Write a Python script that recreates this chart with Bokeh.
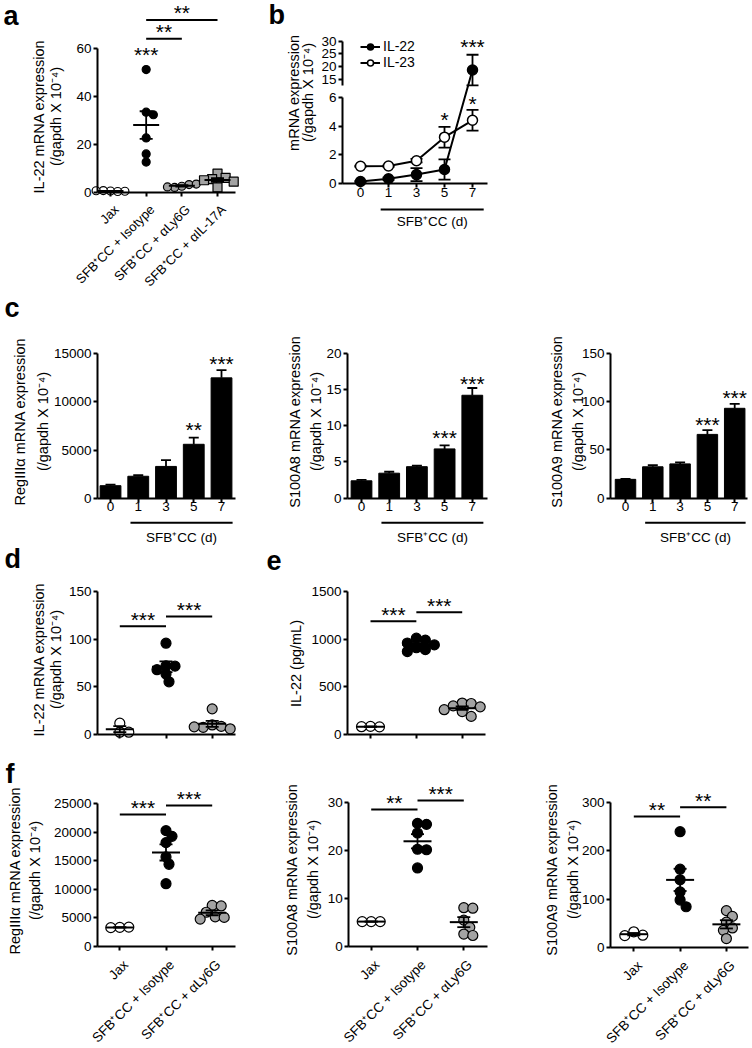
import math
import numpy as np
from bokeh.plotting import figure
from bokeh.models import Range1d, FixedTicker, LinearAxis, Legend, LegendItem
from bokeh.layouts import row, column
from bokeh.embed import file_html
from bokeh.resources import INLINE
from bokeh.core.properties import value

FONT = "Liberation Sans"
TICK_FS = "13.5px"
LAB_FS = "14.5px"
STAR_FS = 21
LETTER_PX = 27
GRAY = "#a3a3a3"
SFB = "SFB\u207aCC"
UNIT = "(/gapdh X 10\u207b\u2074)"

# ---------------- data ----------------
# panel a
a_groups = ["Jax", SFB + " + Isotype", SFB + " + \u03b1Ly6G", SFB + " + \u03b1IL-17A"]
a_jax = [0.5, 0.3, 0.7, 0.4, 0.6]
a_iso = [51.3, 33.5, 32.4, 22.7, 16.0, 12.6]
a_ly6g = [2.5, 3.2, 2.0, 3.4, 2.2]
a_il17 = [7.8, 6.0, 5.5, 5.0, 4.4, 2.0]
a_yticks = [0, 20, 40, 60]
a_sig = [(1, 2, 64.2, "**"), (1, 3, 72.1, "**")]
a_stars = [(1, 58.6, "***")]

# panel b
b_days = ["0", "1", "3", "5", "7"]
b_il22 = [0.16, 0.35, 0.64, 0.99, 18.7]
b_il22_sem = [0.04, 0.08, 0.45, 0.7, 6.0]
b_il23 = [1.22, 1.23, 1.6, 3.23, 4.4]
b_il23_sem = [0.04, 0.05, 0.12, 0.72, 0.72]
b_low_ticks = [0, 2, 4, 6]
b_up_ticks = [15, 20, 25, 30]
b_low_max = 6
b_up_min = 12.65
b_stars = [(3, 4.6, "*"), (4, 5.77, "*"), (4, 28.9, "***")]

# panel c
c_days = ["0", "1", "3", "5", "7"]
c1_mean = [1300, 2280, 3300, 5600, 12500]
c1_sem = [100, 120, 650, 700, 800]
c1_stars = [(3, 7400, "**"), (4, 14300, "***")]
c1_yticks = [0, 5000, 10000, 15000]
c2_mean = [2.4, 3.45, 4.35, 6.8, 14.2]
c2_sem = [0.12, 0.2, 0.15, 0.5, 1.0]
c2_stars = [(3, 8.65, "***"), (4, 16.2, "***")]
c2_yticks = [0, 5, 10, 15, 20]
c3_mean = [19.5, 32.5, 35.5, 66.0, 93.0]
c3_sem = [0.5, 1.8, 1.5, 4.5, 4.5]
c3_stars = [(3, 79.3, "***"), (4, 106.9, "***")]
c3_yticks = [0, 50, 100, 150]

# panels d, e, f
g3 = ["Jax", SFB + " + Isotype", SFB + " + \u03b1Ly6G"]
d_jax = [11.9, 2.4, 2.4]
d_iso = [95.8, 72.0, 71.7, 68.0, 63.5, 55.3]
d_ly6g = [26.9, 10.0, 8.5, 7.5, 6.0, 8.0]
d_sig = [(0, 1, 113.6, "***"), (1, 2, 123.8, "***")]
d_yticks = [0, 50, 100, 150]

e_jax = [85, 80, 82]
e_iso = [1010, 990, 960, 940, 910, 890, 870]
e_ly6g = [330, 325, 300, 290, 260, 240, 190]
e_sig = [(0, 1, 1188, "***"), (1, 2, 1283, "***")]
e_yticks = [0, 500, 1000, 1500]

f1_jax = [3350, 3400, 3300]
f1_iso = [20300, 19300, 18200, 15700, 14400, 11000]
f1_ly6g = [7200, 7100, 6000, 5200, 5100, 4800]
f1_sig = [(0, 1, 23126, "***"), (1, 2, 24703, "***")]
f1_yticks = [0, 5000, 10000, 15000, 20000, 25000]

f2_jax = [5.2, 5.2, 5.2]
f2_iso = [25.7, 25.5, 23.7, 20.3, 20.2, 16.4]
f2_ly6g = [8.1, 8.0, 5.5, 4.0, 2.6, 2.3]
f2_sig = [(0, 1, 28.6, "**"), (1, 2, 30.5, "***")]
f2_yticks = [0, 10, 20, 30]

f3_jax = [32, 25, 24]
f3_iso = [240, 162, 140, 115, 98, 84]
f3_ly6g = [76, 64, 52, 40, 35, 18]
f3_sig = [(0, 1, 271.5, "**"), (1, 2, 291, "**")]
f3_yticks = [0, 100, 200, 300]


# ---------------- helpers ----------------
class Geo:
    """Canvas geometry: pixel anchors for the axes (canvas = frame)."""
    def __init__(self, cw, ch, yax_px, xend_px, x0px, dx, y0px, ytop_px, ytop_val):
        self.cw, self.ch = cw, ch
        self.yax_px, self.xend_px = yax_px, xend_px
        self.x0px, self.dx, self.y0px = x0px, dx, y0px
        self.ppu = (y0px - ytop_px) / ytop_val

    def xd(self, X):
        return (X - self.x0px) / self.dx

    def yd(self, Y):
        return (self.y0px - Y) / self.ppu


def make_fig(g):
    p = figure(width=g.cw, height=g.ch, min_border=0, title=None,
               x_range=Range1d(g.xd(0), g.xd(g.cw)),
               y_range=Range1d(g.yd(g.ch), g.yd(0)),
               output_backend="svg", toolbar_location=None,
               x_axis_location=None, y_axis_location=None)
    p.xgrid.visible = False
    p.ygrid.visible = False
    p.outline_line_color = None
    p.background_fill_color = "white"
    p.border_fill_color = "white"
    return p


def style_axis(ax):
    ax.axis_line_width = 2
    ax.axis_line_color = "black"
    ax.major_tick_line_width = 2
    ax.major_tick_line_color = "black"
    ax.major_tick_out = 4
    ax.major_tick_in = 0
    ax.minor_tick_line_color = None
    ax.major_label_text_font = FONT
    ax.major_label_text_font_size = TICK_FS
    ax.major_label_text_color = "black"
    ax.major_label_standoff = 2


def add_yaxis(p, g, ticks, lines, xs, yc):
    ax = LinearAxis(fixed_location=g.xd(g.yax_px), bounds=(0, ticks[-1]),
                    ticker=FixedTicker(ticks=ticks))
    style_axis(ax)
    p.add_layout(ax, "left")
    p.text(x=[g.xd(x) for x in xs], y=[g.yd(yc)] * len(lines), text=lines, angle=math.pi / 2,
           text_font=value(FONT), text_font_size=LAB_FS, text_align="center",
           text_baseline="middle", text_color="black")
    return ax


def add_xaxis(p, g, labels, cat=None):
    n = len(labels)
    ax = LinearAxis(fixed_location=0, bounds=(g.xd(g.yax_px), g.xd(g.xend_px)),
                    ticker=FixedTicker(ticks=list(range(n))),
                    major_label_overrides={i: ("" if cat else labels[i]) for i in range(n)})
    style_axis(ax)
    ax.major_label_standoff = 0
    p.add_layout(ax, "below")
    if cat:
        fs, dxp, dyp = cat
        p.text(x=[i + dxp / g.dx for i in range(n)], y=[g.yd(g.y0px + dyp)] * n, text=labels,
               angle=math.pi / 4, text_font=value(FONT), text_font_size=fs,
               text_align="right", text_baseline="middle", text_color="black")
    return ax


def underline(p, g, line_px, text_px, label, x0=0.72, x1=4.4):
    yl = g.yd(g.y0px + line_px)
    p.segment([x0], [yl], [x1], [yl], line_color="black", line_width=2)
    p.text(x=[(x0 + x1) / 2], y=[g.yd(g.y0px + text_px)], text=[label], text_font=value(FONT),
           text_font_size=TICK_FS, text_align="center", text_baseline="middle",
           text_color="black")


def letter(p, g, X, Y, t):
    # Y: wanted baseline; the renderer draws ~0.45em lower than the anchor
    p.text(x=[g.xd(X)], y=[g.yd(Y - 0.45 * LETTER_PX)], text=[t], text_font=value(FONT),
           text_font_size="%dpx" % LETTER_PX, text_font_style="bold",
           text_baseline="alphabetic", text_align="left", text_color="black")


def stars(p, g, items):
    # items: (x, visual centre value, text)
    p.text(x=[i[0] for i in items], y=[i[1] for i in items], text=[i[2] for i in items],
           text_font=value(FONT), text_font_size="%dpx" % STAR_FS, text_align="center",
           text_baseline="alphabetic", y_offset=2.5, text_color="black")


def sig(p, g, pairs):
    p.segment(x0=[a for a, b, y, t in pairs], y0=[y for a, b, y, t in pairs],
              x1=[b for a, b, y, t in pairs], y1=[y for a, b, y, t in pairs],
              line_color="black", line_width=2)
    stars(p, g, [((a + b) / 2, y + 9.5 / g.ppu, t) for a, b, y, t in pairs])


def swarm(vals, ppu, dx, diam):
    placed, out = [], []
    step = 0.3 * diam
    for v in vals:
        y = v * ppu
        cands = [0.0]
        for k in range(1, 30):
            cands += [k * step, -k * step]
        for c in cands:
            if all((c - px) ** 2 + (y - py) ** 2 >= (0.8 * diam) ** 2 for px, py in placed):
                break
        placed.append((c, y))
        out.append(c / dx)
    return out


def scatter_panel(p, g, groups, fills, markers, sizes, mean_w=28, cap_w=13):
    for i, vals in enumerate(groups):
        offs = swarm(vals, g.ppu, g.dx, sizes[i])
        p.scatter([i + o for o in offs], vals, marker=markers[i], size=sizes[i],
                  fill_color=fills[i], line_color="black", line_width=1.2)
    for i, vals in enumerate(groups):
        m = float(np.mean(vals))
        s = float(np.std(vals, ddof=1) / np.sqrt(len(vals)))
        p.segment([i], [m - s], [i], [m + s], line_color="black", line_width=1.8)
        p.scatter([i], [m], marker="dash", size=mean_w, line_width=2, line_color="black")
        p.scatter([i, i], [m - s, m + s], marker="dash", size=cap_w, line_width=1.8,
                  line_color="black")


def bar_panel(p, g, means, sems, st, yticks, lines, xs, yc):
    x = list(range(len(means)))
    p.vbar(x=x, top=means, width=0.75, fill_color="black", line_color="black")
    tops = [m + s for m, s in zip(means, sems)]
    p.segment(x, means, x, tops, line_color="black", line_width=1.8)
    p.scatter(x, tops, marker="dash", size=10, line_width=1.8, line_color="black")
    stars(p, g, st)
    add_yaxis(p, g, yticks, lines, xs, yc)
    add_xaxis(p, g, c_days)
    underline(p, g, 24.6, 39, SFB + " (d)")


# ---------------- row 1: a, b ----------------
R1 = 292
ga = Geo(252, R1, 97, 235, 110, 35.67, 191.7, 48.3, 60)
pa = make_fig(ga)
scatter_panel(pa, ga, [a_jax, a_iso, a_ly6g, a_il17], ["white", "black", GRAY, GRAY],
              ["circle", "circle", "circle", "square"], [8, 8, 8, 9], mean_w=26, cap_w=13)
sig(pa, ga, a_sig)
stars(pa, ga, a_stars)
add_yaxis(pa, ga, a_yticks, ["IL-22 mRNA expression", UNIT], [38, 55], 116)
add_xaxis(pa, ga, a_groups, cat=("13px", 6, 15))
letter(pa, ga, 3, 28, "a")

gb = Geo(248, R1, 90, 235, 108, 28, 183.3, 96.7, 6)
UP_TOP_PX, UP_BOT_PX = 40.7, 85.0
ppu_up = (UP_BOT_PX - UP_TOP_PX) / (b_up_ticks[-1] - b_up_min)


def bv(y):
    if y <= b_low_max:
        return y
    return gb.yd(UP_BOT_PX - (y - b_up_min) * ppu_up)


pb = make_fig(gb)
pb.extra_y_ranges = {"up": Range1d(b_up_min + (UP_BOT_PX - gb.ch) / ppu_up,
                                   b_up_min + (UP_BOT_PX - 0) / ppu_up)}
bx = list(range(len(b_days)))
v22 = [bv(v) for v in b_il22]
v23 = [bv(v) for v in b_il23]
l22 = pb.line(bx, v22, line_color="black", line_width=2)
l23 = pb.line(bx, v23, line_color="black", line_width=2)
for m, s in ((b_il22, b_il22_sem), (b_il23, b_il23_sem)):
    lo = [bv(a - b) for a, b in zip(m, s)]
    hi = [bv(a + b) for a, b in zip(m, s)]
    pb.segment(bx, lo, bx, hi, line_color="black", line_width=1.8)
    pb.scatter(bx + bx, lo + hi, marker="dash", size=12, line_width=1.8, line_color="black")
s22 = pb.scatter(bx, v22, marker="circle", size=10, fill_color="black", line_color="black",
                 line_width=1.5)
s23 = pb.scatter(bx, v23, marker="circle", size=10, fill_color="white", line_color="black",
                 line_width=1.5)
stars(pb, gb, [(x, bv(y), t) for x, y, t in b_stars])
add_yaxis(pb, gb, b_low_ticks, ["mRNA expression", UNIT], [41, 55], 92)
uax = LinearAxis(y_range_name="up", ticker=FixedTicker(ticks=b_up_ticks),
                 bounds=(b_up_min, b_up_ticks[-1]), fixed_location=gb.xd(gb.yax_px))
style_axis(uax)
pb.add_layout(uax, "left")
add_xaxis(pb, gb, b_days)
underline(pb, gb, 25.7, 37.7, SFB + " (d)")
leg = Legend(items=[LegendItem(label="IL-22", renderers=[l22, s22]),
                    LegendItem(label="IL-23", renderers=[l23, s23])],
             location=(108, gb.ch - 70), margin=0, padding=0, spacing=0, glyph_height=15,
             glyph_width=20, label_height=15, label_standoff=3, border_line_color=None,
             background_fill_alpha=0, label_text_font=FONT, label_text_font_size="14px",
             label_text_baseline="middle", label_text_color="black")
pb.add_layout(leg)
letter(pb, gb, 16, 27, "b")

# ---------------- row 2: c ----------------
R2 = 253
gc1 = Geo(252, R2, 97, 235, 110, 27.75, 205.7, 61.3, 15000)
pc1 = make_fig(gc1)
bar_panel(pc1, gc1, c1_mean, c1_sem, c1_stars, c1_yticks,
          ["RegIII\u03b1 mRNA expression", UNIT], [19, 42], 129)
letter(pc1, gc1, 4, 28, "c")

gc2 = Geo(248, R2, 95, 235, 109, 27.7, 205.7, 60.7, 20)
pc2 = make_fig(gc2)
bar_panel(pc2, gc2, c2_mean, c2_sem, c2_stars, c2_yticks,
          ["S100A8 mRNA expression", UNIT], [42, 63], 129)

gc3 = Geo(250, R2, 110, 247, 125, 27.3, 205.7, 60.7, 150)
pc3 = make_fig(gc3)
bar_panel(pc3, gc3, c3_mean, c3_sem, c3_stars, c3_yticks,
          ["S100A9 mRNA expression", UNIT], [56, 77], 129)

# ---------------- row 3: d, e ----------------
STY = dict(fills=["white", "black", GRAY], markers=["circle"] * 3, sizes=[10, 10, 10])

gd = Geo(252, 212, 97, 235, 119.3, 46.2, 189, 46, 150)
pd_ = make_fig(gd)
scatter_panel(pd_, gd, [d_jax, d_iso, d_ly6g], **STY)
sig(pd_, gd, d_sig)
add_yaxis(pd_, gd, d_yticks, ["IL-22 mRNA expression", UNIT], [38, 55], 114)
add_xaxis(pd_, gd, ["", "", ""])
letter(pd_, gd, 4, 26, "d")

ge = Geo(248, 212, 95, 233, 118, 45.85, 189, 46, 1500)
pe = make_fig(ge)
scatter_panel(pe, ge, [e_jax, e_iso, e_ly6g], **STY)
sig(pe, ge, e_sig)
add_yaxis(pe, ge, e_yticks, ["IL-22 (pg/mL)"], [43], 118)
add_xaxis(pe, ge, ["", "", ""])
letter(pe, ge, 14, 27, "e")

# ---------------- row 4: f ----------------
CAT_F = ("13.5px", 6, 16)
gf1 = Geo(252, 289, 97, 235, 119.3, 46.2, 189, 46.3, 25000)
pf1 = make_fig(gf1)
scatter_panel(pf1, gf1, [f1_jax, f1_iso, f1_ly6g], **STY)
sig(pf1, gf1, f1_sig)
add_yaxis(pf1, gf1, f1_yticks, ["RegIII\u03b1 mRNA expression", UNIT], [14, 34], 113)
add_xaxis(pf1, gf1, g3, cat=CAT_F)
letter(pf1, gf1, 5, 29, "f")

gf2 = Geo(248, 289, 96.3, 235, 118.7, 46.3, 189, 45.3, 30)
pf2 = make_fig(gf2)
scatter_panel(pf2, gf2, [f2_jax, f2_iso, f2_ly6g], **STY)
sig(pf2, gf2, f2_sig)
add_yaxis(pf2, gf2, f2_yticks, ["S100A8 mRNA expression", UNIT], [39, 60], 112)
add_xaxis(pf2, gf2, g3, cat=CAT_F)

gf3 = Geo(250, 289, 110, 248, 133.3, 46.3, 189.7, 45.3, 300)
pf3 = make_fig(gf3)
scatter_panel(pf3, gf3, [f3_jax, f3_iso, f3_ly6g], **STY)
sig(pf3, gf3, f3_sig)
add_yaxis(pf3, gf3, f3_yticks, ["S100A9 mRNA expression", UNIT], [51, 72], 112)
add_xaxis(pf3, gf3, g3, cat=CAT_F)

layout = column(row(pa, pb), row(pc1, pc2, pc3), row(pd_, pe), row(pf1, pf2, pf3))
open("out.html", "w").write(file_html(layout, INLINE))
